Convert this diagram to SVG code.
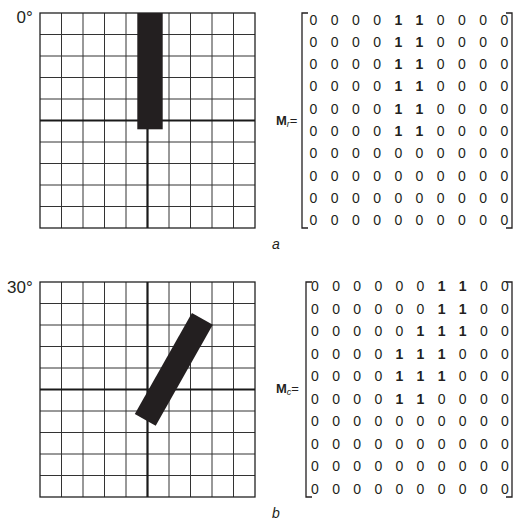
<svg xmlns="http://www.w3.org/2000/svg" width="521" height="523" viewBox="0 0 521 523">
<style>
.grid{fill:none;stroke:#333;stroke-width:1}
.frame{fill:none;stroke:#222;stroke-width:1.3}
.axis{fill:none;stroke:#1a1a1a;stroke-width:2.2}
.bar{fill:#231f20}
.br{fill:none;stroke:#231f20;stroke-width:1.3}
.deg{font-family:"Liberation Sans",Arial,sans-serif;font-size:17px;fill:#231f20}
.m{font-family:"Liberation Sans",Arial,sans-serif;font-size:14px;fill:#231f20;text-anchor:middle}
.m .b{font-weight:bold}
.lab{font-family:"Liberation Sans",Arial,sans-serif;font-size:13px;fill:#231f20}
.cap{font-family:"Liberation Sans",Arial,sans-serif;font-size:14px;font-style:italic;fill:#231f20}
</style>

<g id="grid-a">
<text class="deg" x="16.5" y="22.5">0°</text>
<path class="grid" d="M61.5,13V228M83,13V228M104.5,13V228M126,13V228M169,13V228M190.5,13V228M212,13V228M233.5,13V228M40,34.5H255M40,56H255M40,77.5H255M40,99H255M40,142H255M40,163.5H255M40,185H255M40,206.5H255"/>
<rect class="frame" x="40" y="13" width="215" height="215"/>
<path class="axis" d="M40,120.5H255M147.5,13V228"/>
<rect class="bar" x="137.3" y="13" width="25.4" height="116.3"/>
</g>

<g id="matrix-a">
<text class="lab" x="276" y="125"><tspan font-weight="bold">M</tspan><tspan font-style="italic" font-size="9" dy="2">r</tspan><tspan dy="-2">=</tspan></text>
<path class="br" d="M308,13H302V228H308M506,13H512V228H506"/>
<g class="m">
<text y="24.5"><tspan x="313.5 334.7 355.9 377.1">0000</tspan><tspan class="b" x="398.3 419.5">11</tspan><tspan x="440.7 461.9 483.1 504.3">0000</tspan></text>
<text y="46.8"><tspan x="313.5 334.7 355.9 377.1">0000</tspan><tspan class="b" x="398.3 419.5">11</tspan><tspan x="440.7 461.9 483.1 504.3">0000</tspan></text>
<text y="69.1"><tspan x="313.5 334.7 355.9 377.1">0000</tspan><tspan class="b" x="398.3 419.5">11</tspan><tspan x="440.7 461.9 483.1 504.3">0000</tspan></text>
<text y="91.4"><tspan x="313.5 334.7 355.9 377.1">0000</tspan><tspan class="b" x="398.3 419.5">11</tspan><tspan x="440.7 461.9 483.1 504.3">0000</tspan></text>
<text y="113.7"><tspan x="313.5 334.7 355.9 377.1">0000</tspan><tspan class="b" x="398.3 419.5">11</tspan><tspan x="440.7 461.9 483.1 504.3">0000</tspan></text>
<text y="136"><tspan x="313.5 334.7 355.9 377.1">0000</tspan><tspan class="b" x="398.3 419.5">11</tspan><tspan x="440.7 461.9 483.1 504.3">0000</tspan></text>
<text y="158.3" x="313.5 334.7 355.9 377.1 398.3 419.5 440.7 461.9 483.1 504.3">0000000000</text>
<text y="180.6" x="313.5 334.7 355.9 377.1 398.3 419.5 440.7 461.9 483.1 504.3">0000000000</text>
<text y="202.9" x="313.5 334.7 355.9 377.1 398.3 419.5 440.7 461.9 483.1 504.3">0000000000</text>
<text y="225.2" x="313.5 334.7 355.9 377.1 398.3 419.5 440.7 461.9 483.1 504.3">0000000000</text>
</g>
<text class="cap" x="272" y="249">a</text>
</g>

<g id="grid-b">
<text class="deg" x="7" y="293">30°</text>
<path class="grid" d="M61.5,282V497M83,282V497M104.5,282V497M126,282V497M169,282V497M190.5,282V497M212,282V497M233.5,282V497M40,303.5H255M40,325H255M40,346.5H255M40,368H255M40,411H255M40,432.5H255M40,454H255M40,475.5H255"/>
<rect class="frame" x="40" y="282" width="215" height="215"/>
<path class="axis" d="M40,389.5H255M147.5,282V497"/>
<rect class="bar" x="-12" y="-58" width="24" height="116" transform="translate(173.8,369.4) rotate(29.5)"/>
</g>

<g id="matrix-b">
<text class="lab" x="276" y="393"><tspan font-weight="bold">M</tspan><tspan font-style="italic" font-size="9" dy="2">c</tspan><tspan dy="-2">=</tspan></text>
<path class="br" d="M312,282H306V497H312M506,282H512V497H506"/>
<g class="m">
<text y="291"><tspan x="315 336.1 357.2 378.3 399.4 420.5">000000</tspan><tspan class="b" x="441.6 462.7">11</tspan><tspan x="483.8 504.9">00</tspan></text>
<text y="313.5"><tspan x="315 336.1 357.2 378.3 399.4 420.5">000000</tspan><tspan class="b" x="441.6 462.7">11</tspan><tspan x="483.8 504.9">00</tspan></text>
<text y="336"><tspan x="315 336.1 357.2 378.3 399.4">00000</tspan><tspan class="b" x="420.5 441.6 462.7">111</tspan><tspan x="483.8 504.9">00</tspan></text>
<text y="358.5"><tspan x="315 336.1 357.2 378.3">0000</tspan><tspan class="b" x="399.4 420.5 441.6">111</tspan><tspan x="462.7 483.8 504.9">000</tspan></text>
<text y="381"><tspan x="315 336.1 357.2 378.3">0000</tspan><tspan class="b" x="399.4 420.5 441.6">111</tspan><tspan x="462.7 483.8 504.9">000</tspan></text>
<text y="403.5"><tspan x="315 336.1 357.2 378.3">0000</tspan><tspan class="b" x="399.4 420.5">11</tspan><tspan x="441.6 462.7 483.8 504.9">0000</tspan></text>
<text y="426" x="315 336.1 357.2 378.3 399.4 420.5 441.6 462.7 483.8 504.9">0000000000</text>
<text y="448.5" x="315 336.1 357.2 378.3 399.4 420.5 441.6 462.7 483.8 504.9">0000000000</text>
<text y="471" x="315 336.1 357.2 378.3 399.4 420.5 441.6 462.7 483.8 504.9">0000000000</text>
<text y="493.5" x="315 336.1 357.2 378.3 399.4 420.5 441.6 462.7 483.8 504.9">0000000000</text>
</g>
<text class="cap" x="272" y="518">b</text>
</g>
</svg>
